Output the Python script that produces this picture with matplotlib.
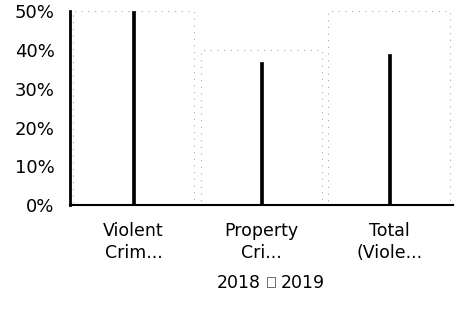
import matplotlib
matplotlib.use("Agg")
import matplotlib.pyplot as plt
import numpy as np
from matplotlib.patches import Patch

categories = ["Violent\nCrim...", "Property\nCri...", "Total\n(Viole..."]
series_2018 = [50, 40, 50]
series_2019 = [50, 37, 39]
yticks = [0, 10, 20, 30, 40, 50]
ytick_labels = ["0%", "10%", "20%", "30%", "40%", "50%"]

plt.rcParams['font.family'] = ['DejaVu Sans']

fig = plt.figure(figsize=(4.59, 3.18), dpi=100)
ax = fig.add_axes([0.152, 0.355, 0.835, 0.61])

x = np.arange(len(categories))
ax.bar(x, series_2018, width=0.95, color="white", edgecolor="#aaaaaa",
       linewidth=0.8, linestyle=(0, (1, 5)), label="2018", zorder=1)
ax.bar(x, series_2019, width=0.025, color="black", edgecolor="black",
       linewidth=0.5, label="2019", zorder=2)

ax.set_xlim(-0.5, 2.5)
ax.set_ylim(0, 50)
ax.set_yticks(yticks)
ax.set_yticklabels(ytick_labels, fontsize=13)
ax.set_xticks(x)
ax.set_xticklabels(categories, fontsize=12.5, linespacing=1.3)
ax.tick_params(axis="x", length=0, pad=12)
ax.tick_params(axis="y", length=0, pad=11)

for s in ["top", "right"]:
    ax.spines[s].set_visible(False)
ax.spines["left"].set_linewidth(2)
ax.spines["bottom"].set_linewidth(1.5)

handles = [Patch(facecolor="white", edgecolor="white"),
           Patch(facecolor="white", edgecolor="#555555", linewidth=0.6)]
fig.legend(handles, ["2018", "2019"], loc="center", bbox_to_anchor=(0.575, 0.11),
           ncol=2, frameon=False, fontsize=12.5, handlelength=0.45, handleheight=0.45,
           handletextpad=0.3, columnspacing=0.4)

fig.savefig("out.png", dpi=100)
